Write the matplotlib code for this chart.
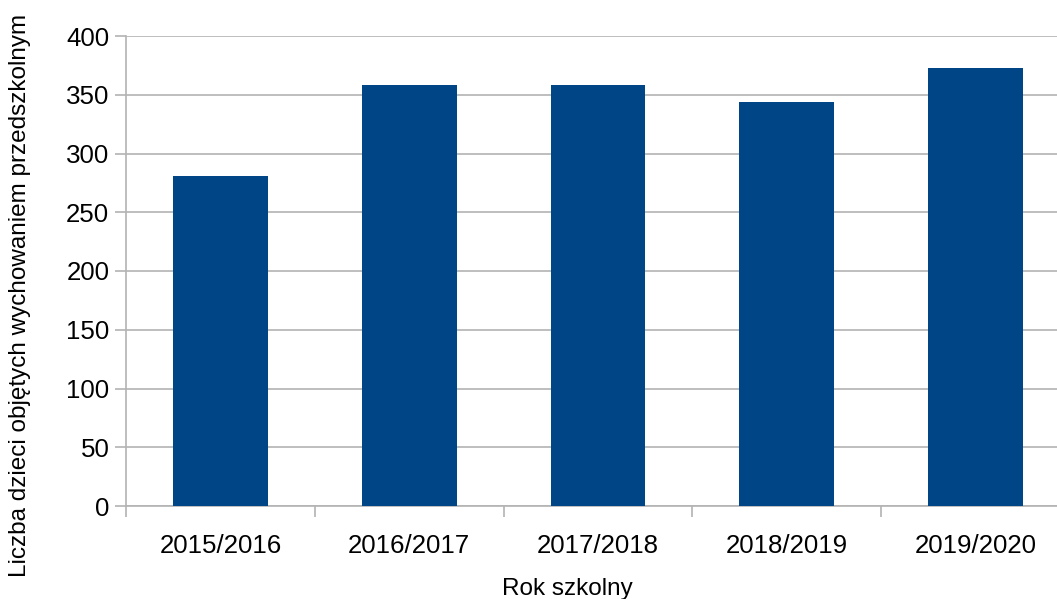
import matplotlib
matplotlib.use("Agg")
import matplotlib.pyplot as plt
import numpy as np

categories = ["2015/2016", "2016/2017", "2017/2018", "2018/2019", "2019/2020"]
values = [281, 358, 358, 344, 373]
yticks = [0, 50, 100, 150, 200, 250, 300, 350, 400]

plt.rcParams['font.family'] = ['Liberation Sans', 'DejaVu Sans']

W, H = 1057, 599
fig = plt.figure(figsize=(W/100, H/100), dpi=100)
ax = fig.add_axes([126/W, (H-506)/H, (1070-126)/W, (506-36)/H])

x = np.arange(len(categories))
ax.bar(x, values, width=0.503, color="#004586", zorder=3)

ax.set_xlim(-0.5, len(categories) - 0.5)
ax.set_ylim(0, 400)
ax.set_yticks(yticks)
ax.set_yticklabels([str(v) for v in yticks])
ax.set_xticks(x)
ax.set_xticklabels(categories)
ax.set_xticks(np.arange(-0.5, len(categories), 1.0), minor=True)

grid_color = "#b3b3b3"
ax.yaxis.grid(True, color=grid_color, linewidth=1.2, zorder=0)
for s in ["top", "right"]:
    ax.spines[s].set_visible(False)
for s in ["left", "bottom"]:
    ax.spines[s].set_color(grid_color)
    ax.spines[s].set_linewidth(1.2)

ax.tick_params(axis="x", which="major", length=0, pad=20, labelsize=18.6)
ax.tick_params(axis="x", which="minor", length=8, color=grid_color, width=1.2)
ax.tick_params(axis="y", which="major", length=8, color=grid_color, width=1.2, pad=4, labelsize=18.6)

fig.text(567/W, 1 - 589/H, "Rok szkolny", fontsize=17.5, ha="center", va="center")
fig.text(20/W, 1 - 295/H, "Liczba dzieci objętych wychowaniem przedszkolnym",
         fontsize=17.5, ha="center", va="center", rotation=90)

fig.savefig("out.png", dpi=100)
